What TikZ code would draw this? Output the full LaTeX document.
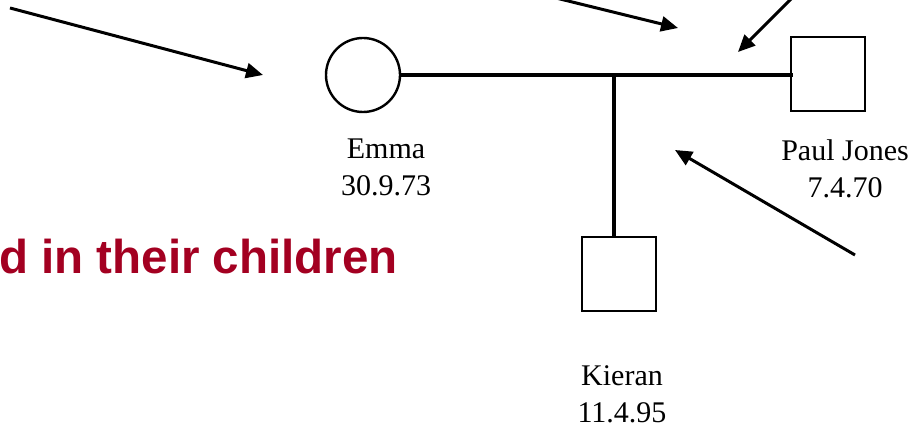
\documentclass[tikz,border=0pt]{standalone}
\usepackage{fontspec}
\setmainfont{Liberation Serif}
\newfontfamily\headfont{Liberation Sans}
\usetikzlibrary{arrows.meta, positioning}
\definecolor{headred}{RGB}{163, 0, 33}

\begin{document}
\begin{tikzpicture}[
  x=1pt, y=-1pt,
  female/.style={draw, circle, line width=2.4pt, minimum size=74pt, inner sep=0pt},
  male/.style={draw, rectangle, line width=2.4pt, minimum size=74pt, inner sep=0pt},
  person/.style={align=center, font=\fontsize{30}{37}\selectfont, inner sep=0pt},
  link/.style={line width=3.2pt},
  pointer/.style={line width=3pt, -{Triangle[length=17pt, width=15pt]}}
]
  \useasboundingbox (0,0) rectangle (915,427);

  % family members
  \node[female] (emma) at (363,75) {};
  \node[male] (paul) at (828,74) {};
  \node[male] (kieran) at (619,274) {};

  \node[person] (emmalab) at (386,167) {Emma\\30.9.73};
  \node[person] (paullab) at (845,169) {Paul Jones\\7.4.70};
  \node[person] (kieranlab) at (622,394) {Kieran\\11.4.95};

  % marriage line and child line
  \draw[link] (emma.east) -- ([xshift=3pt]paul.west |- emma.east);
  \draw[link] ([xshift=-5pt]kieran.north) -- ([xshift=-5pt]kieran.north |- emma.east);

  % pointers
  \coordinate (p1s) at (10,8);    \coordinate (p1e) at (263,75);
  \coordinate (p2s) at (556,-2);  \coordinate (p2e) at (678,28);
  \coordinate (p3s) at (793,-3);  \coordinate (p3e) at (738,52);
  \coordinate (p4s) at (855,255); \coordinate (p4e) at (675,150);
  \draw[pointer] (p1s) -- (p1e);
  \draw[pointer] (p2s) -- (p2e);
  \draw[pointer] (p3s) -- (p3e);
  \draw[pointer] (p4s) -- (p4e);

  % heading text
  \node[anchor=base west, inner sep=0pt, text=headred,
        font=\headfont\bfseries\fontsize{47.5}{52}\selectfont] (head)
    at (-1,274) {d in their children};
\end{tikzpicture}
\end{document}
